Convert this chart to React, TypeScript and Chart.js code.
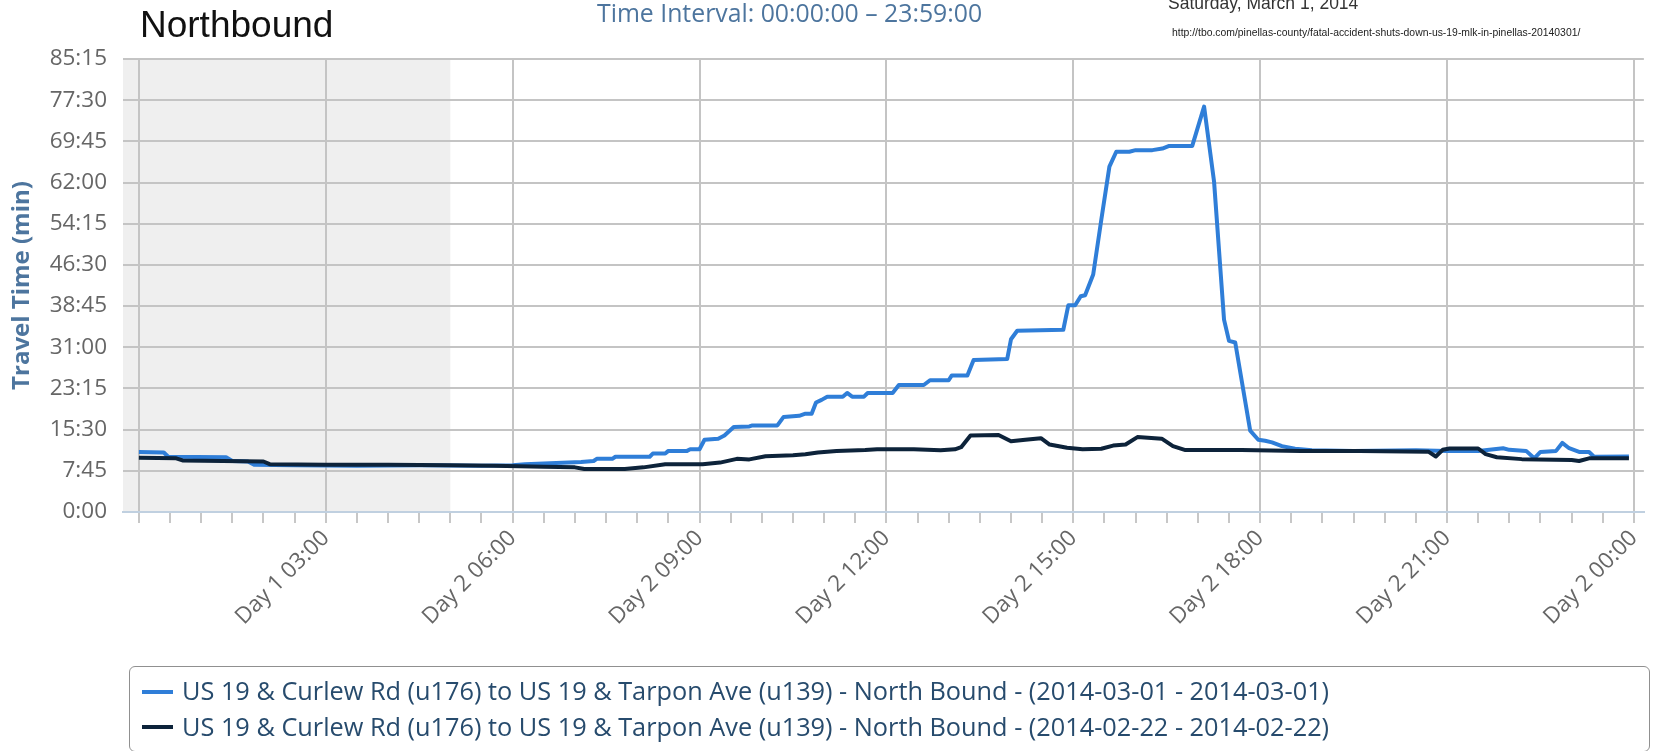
import React, { useEffect, useRef } from 'react';
import { Chart, registerables } from 'chart.js';

Chart.register(...registerables);

// ---- Data (hours of day, travel time in minutes) ----
const blueHours = [
  0, 0.4, 0.47, 1.4, 1.5, 1.75, 1.85, 2.5, 3.5, 4.5, 5.5, 6.0, 6.2, 6.7, 7.1, 7.3, 7.35, 7.6, 7.65, 8.2,
  8.25, 8.45, 8.5, 8.8, 8.85, 9.0, 9.08, 9.3, 9.4, 9.55, 9.8, 9.85, 10.25, 10.35, 10.6, 10.7, 10.8, 10.87, 10.96, 11.05,
  11.3, 11.37, 11.45, 11.64, 11.7, 12.1, 12.2, 12.6, 12.7, 13.0, 13.05, 13.3, 13.4, 13.94, 14.0, 14.1, 14.84, 14.92, 15.03, 15.12,
  15.19, 15.32, 15.45, 15.58, 15.69, 15.9, 16.0, 16.27, 16.43, 16.54, 16.91, 17.1, 17.26, 17.42, 17.5, 17.6, 17.84, 17.97, 18.08, 18.19,
  18.35, 18.56, 18.83, 19.5, 20.5, 21.0, 21.5, 21.68, 21.9, 22.0, 22.27, 22.4, 22.5, 22.75, 22.85, 22.96, 23.12, 23.28, 23.36, 23.92,
];
const blueMinutes = [
  11.3, 11.2, 10.4, 10.3, 9.6, 9.5, 8.9, 8.8, 8.7, 8.8, 8.7, 8.8, 9.0, 9.2, 9.4, 9.6, 10.0, 10.0, 10.4, 10.4,
  11.0, 11.0, 11.5, 11.5, 11.8, 11.8, 13.6, 13.8, 14.4, 16.0, 16.1, 16.3, 16.3, 17.9, 18.1, 18.5, 18.5, 20.6, 21.1, 21.7,
  21.7, 22.4, 21.7, 21.7, 22.4, 22.4, 23.9, 23.9, 24.8, 24.8, 25.7, 25.7, 28.6, 28.8, 32.5, 34.1, 34.3, 38.9, 38.9, 40.6,
  40.8, 44.7, 55.0, 65.0, 67.8, 67.8, 68.1, 68.1, 68.4, 68.9, 68.9, 76.3, 62.2, 36.2, 32.2, 31.9, 15.3, 13.6, 13.4, 13.1,
  12.4, 11.9, 11.6, 11.5, 11.6, 11.5, 11.5, 11.7, 12.0, 11.7, 11.5, 10.1, 11.3, 11.5, 13.0, 12.0, 11.3, 11.3, 10.4, 10.45,
];

const blackHours = [
  0, 0.6, 0.7, 2.0, 2.1, 3.0, 4.0, 5.0, 5.7, 6.5, 7.0, 7.15, 7.8, 8.1, 8.45, 9.05, 9.33, 9.6, 9.8, 10.06,
  10.5, 10.7, 10.9, 11.2, 11.66, 11.85, 12.44, 12.87, 13.1, 13.2, 13.35, 13.8, 14.0, 14.23, 14.48, 14.62, 14.9, 15.15, 15.45, 15.64,
  15.84, 16.03, 16.42, 16.6, 16.8, 17.7, 18.65, 19.6, 20.7, 20.82, 20.93, 21.04, 21.5, 21.62, 21.8, 22.2, 23.0, 23.12, 23.28, 23.92,
];
const blackMinutes = [
  10.2, 10.1, 9.7, 9.5, 9.0, 8.9, 8.9, 8.8, 8.7, 8.5, 8.4, 8.1, 8.1, 8.4, 9.0, 9.0, 9.3, 10.0, 9.9, 10.5,
  10.7, 10.85, 11.2, 11.5, 11.65, 11.8, 11.8, 11.6, 11.8, 12.2, 14.4, 14.5, 13.3, 13.6, 13.9, 12.7, 12.1, 11.8, 11.9, 12.5,
  12.7, 14.1, 13.8, 12.4, 11.65, 11.65, 11.5, 11.5, 11.35, 10.45, 11.7, 11.95, 11.95, 10.9, 10.3, 9.95, 9.8, 9.6, 10.1, 10.1,
];

const seriesLabels = [
  'US 19 & Curlew Rd (u176) to US 19 & Tarpon Ave (u139) - North Bound - (2014-03-01 - 2014-03-01)',
  'US 19 & Curlew Rd (u176) to US 19 & Tarpon Ave (u139) - North Bound - (2014-02-22 - 2014-02-22)',
];
const seriesColors = ['#2f7ed8', '#0d233a'];

const xLabelHours = [3, 6, 9, 12, 15, 18, 21, 24];
const xLabelTexts = ['Day 1 03:00', 'Day 2 06:00', 'Day 2 09:00', 'Day 2 12:00', 'Day 2 15:00', 'Day 2 18:00', 'Day 2 21:00', 'Day 2 00:00'];
const yTickValues = [0, 7.75, 15.5, 23.25, 31, 38.75, 46.5, 54.25, 62, 69.75, 77.5, 85.25];
const yTickLabels = ['0:00', '7:45', '15:30', '23:15', '31:00', '38:45', '46:30', '54:15', '62:00', '69:45', '77:30', '85:15'];

const titleText = 'Northbound';
const subtitleText = 'Time Interval: 00:00:00 \u2013 23:59:00';
const dateText = 'Saturday, March 1, 2014';
const urlText = 'http://tbo.com/pinellas-county/fatal-accident-shuts-down-us-19-mlk-in-pinellas-20140301/';
const yAxisTitle = 'Travel Time (min)';

const bandEndHour = 5;
const xMin = -0.255;
const xMax = 24.16;
const minorTickStep = 0.5;

const SANS = "'Open Sans', 'Noto Sans', sans-serif";
const ARIAL = "'Liberation Sans', Arial, sans-serif";

const W = 1655;
const H = 751;

export default function App() {
  const canvasRef = useRef<HTMLCanvasElement>(null);

  useEffect(() => {
    const canvas = canvasRef.current;
    if (!canvas) return;

    const xTickValues: number[] = [];
    for (let v = 0; v <= 24 + 1e-9; v += minorTickStep) xTickValues.push(Math.round(v * 2) / 2);

    const bandPlugin = {
      id: 'plotBand',
      beforeDraw(chart: any) {
        const { ctx, chartArea, scales } = chart;
        const x0 = chartArea.left;
        const x1 = scales.x.getPixelForValue(bandEndHour);
        ctx.save();
        ctx.fillStyle = '#efefef';
        ctx.fillRect(x0, chartArea.top, x1 - x0, chartArea.bottom - chartArea.top);
        ctx.restore();
      },
    };

    const chart = new Chart(canvas, {
      type: 'line',
      data: {
        datasets: [
          {
            label: seriesLabels[0],
            data: blueHours.map((h, i) => ({ x: h, y: blueMinutes[i] })),
            borderColor: seriesColors[0],
            backgroundColor: seriesColors[0],
            borderWidth: 4,
            pointRadius: 0,
            tension: 0,
            order: 2,
            borderJoinStyle: 'round',
          },
          {
            label: seriesLabels[1],
            data: blackHours.map((h, i) => ({ x: h, y: blackMinutes[i] })),
            borderColor: seriesColors[1],
            backgroundColor: seriesColors[1],
            borderWidth: 4,
            pointRadius: 0,
            tension: 0,
            order: 1,
            borderJoinStyle: 'round',
          },
        ],
      },
      options: {
        animation: false,
        responsive: false,
        devicePixelRatio: 1,
        layout: { padding: { top: 59, left: 0, right: 0, bottom: 0 } },
        plugins: {
          legend: { display: false },
          tooltip: { enabled: false },
          title: { display: false },
        },
        scales: {
          x: {
            type: 'linear',
            min: xMin,
            max: xMax,
            afterBuildTicks: (s: any) => {
              s.ticks = xTickValues.map((v) => ({ value: v }));
            },
            afterFit: (s: any) => {
              s.height = H - 512;
            },
            grid: {
              color: (c: any) => (c.tick && Math.abs(c.tick.value % 3) < 1e-6 ? '#c4c4c4' : 'rgba(0,0,0,0)'),
              lineWidth: 2,
              drawTicks: true,
              tickLength: 11,
              tickWidth: 1.5,
              tickColor: '#b4b4b4',
            },
            border: { display: true, color: '#c0d0e0', width: 2 },
            ticks: {
              autoSkip: false,
              minRotation: 45,
              maxRotation: 45,
              padding: 2,
              color: '#666666',
              font: { family: SANS, size: 22.5 },
              callback: (value: any) => {
                const idx = xLabelHours.findIndex((h) => Math.abs(h - Number(value)) < 1e-6);
                return idx >= 0 ? xLabelTexts[idx] : '';
              },
            },
          },
          y: {
            type: 'linear',
            min: 0,
            max: 85.25,
            afterBuildTicks: (s: any) => {
              s.ticks = yTickValues.map((v) => ({ value: v }));
            },
            afterFit: (s: any) => {
              s.width = 123;
            },
            grid: {
              color: (c: any) => (c.tick && c.tick.value === 0 ? 'rgba(0,0,0,0)' : '#c4c4c4'),
              lineWidth: 2,
              drawTicks: false,
            },
            border: { display: false },
            ticks: {
              padding: 16,
              color: '#666666',
              font: { family: SANS, size: 22.5 },
              callback: (_v: any, i: number) => yTickLabels[i],
            },
            title: {
              display: true,
              text: yAxisTitle,
              color: '#4d759e',
              font: { family: SANS, size: 24, weight: 'bold' },
              padding: { top: 7.6, bottom: 0 },
            },
          },
        },
      } as any,
      plugins: [bandPlugin],
    });

    return () => chart.destroy();
  }, []);

  const text = (
    content: string,
    left: number,
    baseline: number,
    size: number,
    family: string,
    color: string,
    k: number,
    extra: React.CSSProperties = {}
  ) => (
    <div
      style={{
        position: 'absolute',
        left,
        top: baseline - size * k,
        fontFamily: family,
        fontSize: size,
        lineHeight: `${size}px`,
        whiteSpace: 'nowrap',
        color,
        ...extra,
      }}
    >
      {content}
    </div>
  );

  const kSans = 0.888;
  const kArial = 0.8465;

  return (
    <div
      style={{
        position: 'fixed',
        left: 0,
        top: 0,
        width: W,
        height: H,
        background: '#ffffff',
        overflow: 'hidden',
      }}
    >
      <canvas
        ref={canvasRef}
        width={W}
        height={H}
        style={{ position: 'absolute', left: 0, top: 0, width: W, height: H }}
      />
      {text(titleText, 140, 37.5, 37, ARIAL, '#111111', kArial)}
      {text(subtitleText, 597, 22, 24.8, SANS, '#4d759e', kSans)}
      {text(dateText, 1168, 10, 17.5, ARIAL, '#333333', kArial)}
      {text(urlText, 1172, 37, 10.4, ARIAL, '#222222', kArial)}

      <div
        style={{
          position: 'absolute',
          left: 129,
          top: 666,
          width: 1521,
          height: 86,
          boxSizing: 'border-box',
          border: '1.5px solid #909090',
          borderRadius: 6,
        }}
      />
      {seriesLabels.map((label, i) => {
        const center = i === 0 ? 692 : 727.3;
        const baseline = i === 0 ? 700.5 : 736;
        return (
          <React.Fragment key={label}>
            <div
              style={{
                position: 'absolute',
                left: 142,
                top: center - 2,
                width: 31,
                height: 4,
                background: seriesColors[i],
              }}
            />
            {text(label, 182, baseline, 25.3, SANS, '#274b6d', kSans)}
          </React.Fragment>
        );
      })}
    </div>
  );
}
